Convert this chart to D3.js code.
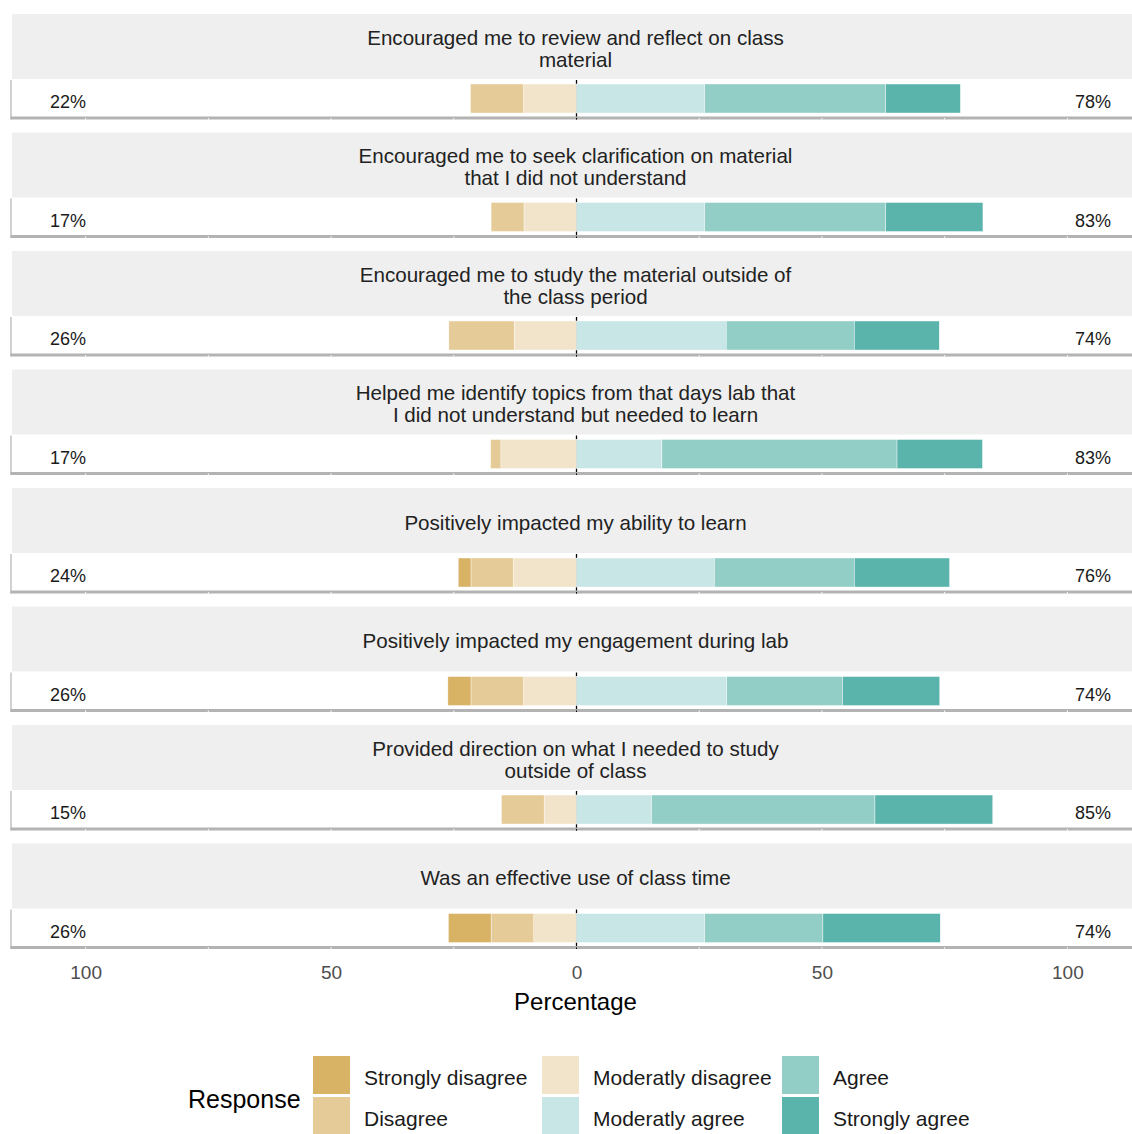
<!DOCTYPE html>
<html>
<head>
<meta charset="utf-8">
<script src="https://cdn.jsdelivr.net/npm/d3@7"></script>
<style>
  body { margin: 0; background: #fff; }
  text { font-family: "Liberation Sans", Arial, sans-serif; }
</style>
</head>
<body>
<svg id="likert" width="1132" height="1134"></svg>
<script>
// DATA
const items = [
    ["Encouraged me to review and reflect on class", "material"],
    ["Encouraged me to seek clarification on material", "that I did not understand"],
    ["Encouraged me to study the material outside of", "the class period"],
    ["Helped me identify topics from that days lab that", "I did not understand but needed to learn"],
    ["Positively impacted my ability to learn"],
    ["Positively impacted my engagement during lab"],
    ["Provided direction on what I needed to study", "outside of class"],
    ["Was an effective use of class time"]
];
const levels = ["Strongly disagree", "Disagree", "Moderatly disagree", "Moderatly agree", "Agree", "Strongly agree"];
const stronglyDisagree = [0, 0, 0, 0, 2.6, 4.7, 0, 8.7];
const disagree = [10.8, 6.7, 13.3, 2.1, 8.6, 10.7, 8.7, 8.7];
const moderatlyDisagree = [10.8, 10.7, 12.7, 15.4, 12.9, 10.8, 6.6, 8.7];
const moderatlyAgree = [26.1, 26.1, 30.5, 17.4, 28.1, 30.6, 15.3, 26.1];
const agree = [36.9, 36.9, 26.1, 47.9, 28.5, 23.6, 45.5, 24.1];
const stronglyAgree = [15.2, 19.8, 17.3, 17.4, 19.4, 19.8, 24.0, 23.9];
const lowLabels = ["22%", "17%", "26%", "17%", "24%", "26%", "15%", "26%"];
const highLabels = ["78%", "83%", "74%", "83%", "76%", "74%", "85%", "74%"];
const tickValues = [-100, -50, 0, 50, 100];
const colors = ["#d8b365", "#e5cb97", "#f2e4ca", "#c8e6e5", "#92cdc6", "#5ab4ac"];

const width = 1132;
const svg = d3.select("svg#likert");

// table for the stack: disagree side negative
const table = items.map((d, i) => ({
    id: i,
    "Strongly disagree": -stronglyDisagree[i],
    "Disagree": -disagree[i],
    "Moderatly disagree": -moderatlyDisagree[i],
    "Moderatly agree": moderatlyAgree[i],
    "Agree": agree[i],
    "Strongly agree": stronglyAgree[i]
}));
const stackOrder = ["Moderatly disagree", "Disagree", "Strongly disagree", "Moderatly agree", "Agree", "Strongly agree"];
const series = d3.stack().keys(stackOrder).offset(d3.stackOffsetDiverging)(table);

const color = d3.scaleOrdinal().domain(levels).range(colors);

// SCALES
const xScale = d3.scaleLinear().domain([-115, 115]).range([12, 1141]);
const facet = d3.scaleBand().domain(d3.range(items.length)).range([14, 949]).paddingInner(0.11);
const stripH = 65;
const panelTop = i => facet(i) + stripH;
const panelBottom = i => facet(i) + facet.bandwidth();

// FACETS
const g = svg.selectAll("g.facet")
    .data(items)
    .join("g")
    .attr("class", "facet");

g.append("rect")
    .attr("x", xScale.range()[0])
    .attr("y", (d, i) => facet(i))
    .attr("width", xScale.range()[1] - xScale.range()[0])
    .attr("height", stripH)
    .attr("fill", "#efefef");

g.append("text")
    .attr("text-anchor", "middle")
    .attr("font-size", 20.6)
    .attr("fill", "#222")
    .each(function(d, i) {
        const mid = facet(i) + stripH / 2;
        const y0 = mid + 9 - (d.length - 1) * 11;
        d3.select(this).selectAll("tspan")
            .data(d)
            .join("tspan")
            .attr("x", xScale(0) - 1)
            .attr("y", (t, j) => y0 + j * 22)
            .text(t => t);
    });

// zero line under the bars
g.append("line")
    .attr("x1", xScale(0)).attr("x2", xScale(0))
    .attr("y1", (d, i) => panelTop(i) + 1)
    .attr("y2", (d, i) => panelBottom(i))
    .attr("stroke", "#000")
    .attr("stroke-width", 1.3);

// BARS
svg.append("g")
    .selectAll("g")
    .data(series)
    .join("g")
    .attr("fill", s => color(s.key))
    .selectAll("rect")
    .data(s => s)
    .join("rect")
    .attr("x", d => xScale(d[0]))
    .attr("width", d => xScale(d[1]) - xScale(d[0]))
    .attr("y", d => panelTop(d.data.id) + 5)
    .attr("height", 29)
    .attr("stroke", "#fff")
    .attr("stroke-width", 0.4);

// panel axis lines
g.append("line")
    .attr("x1", xScale.range()[0] - 1).attr("x2", xScale.range()[0] - 1)
    .attr("y1", (d, i) => panelTop(i) + 1)
    .attr("y2", (d, i) => panelBottom(i))
    .attr("stroke", "#b3b3b3")
    .attr("stroke-width", 1.2);

g.append("line")
    .attr("x1", xScale.range()[0] - 1.5).attr("x2", width)
    .attr("y1", (d, i) => panelBottom(i) - 1.5)
    .attr("y2", (d, i) => panelBottom(i) - 1.5)
    .attr("stroke", "#b3b3b3")
    .attr("stroke-width", 3);

g.each(function(d, i) {
    d3.select(this).selectAll("line.notch")
        .data(d3.range(-100, 101, 25))
        .join("line")
        .attr("class", "notch")
        .attr("x1", v => xScale(v)).attr("x2", v => xScale(v))
        .attr("y1", panelBottom(i) - 1.5)
        .attr("y2", panelBottom(i))
        .attr("stroke", v => v === 0 ? "#000" : "#fff")
        .attr("stroke-width", 1);
});

// percent labels
g.append("text")
    .attr("x", xScale(-103.6))
    .attr("y", (d, i) => panelTop(i) + 29)
    .attr("text-anchor", "middle")
    .attr("font-size", 18)
    .attr("fill", "#1a1a1a")
    .text((d, i) => lowLabels[i]);

g.append("text")
    .attr("x", xScale(105.2))
    .attr("y", (d, i) => panelTop(i) + 29)
    .attr("text-anchor", "middle")
    .attr("font-size", 18)
    .attr("fill", "#1a1a1a")
    .text((d, i) => highLabels[i]);

// AXIS
const xAxis = svg.append("g")
    .attr("transform", `translate(0, ${panelBottom(items.length - 1)})`)
    .call(d3.axisBottom(xScale).tickValues(tickValues).tickSize(0).tickPadding(17).tickFormat(v => Math.abs(v)));
xAxis.select(".domain").remove();
xAxis.selectAll("text")
    .attr("font-size", 19)
    .attr("fill", "#4d4d4d")
    .attr("font-family", "Liberation Sans, Arial, sans-serif");

svg.append("text")
    .attr("x", xScale(0) - 1)
    .attr("y", 1010)
    .attr("text-anchor", "middle")
    .attr("font-size", 24)
    .attr("fill", "#000")
    .text("Percentage");

// LEGEND
const legend = svg.append("g");
legend.append("text")
    .attr("x", 188)
    .attr("y", 1108)
    .attr("font-size", 25)
    .attr("fill", "#000")
    .text("Response");

const colX = [313, 542, 782];
const rowY = [1056, 1097];
const key = legend.selectAll("g.key")
    .data(levels)
    .join("g")
    .attr("class", "key")
    .attr("transform", (d, i) => `translate(${colX[Math.floor(i / 2)]}, ${rowY[i % 2]})`);

key.append("rect")
    .attr("width", 37)
    .attr("height", 38)
    .attr("fill", d => color(d));

key.append("text")
    .attr("x", 51)
    .attr("y", 29)
    .attr("font-size", 21)
    .attr("fill", "#1a1a1a")
    .text(d => d);
</script>
</body>
</html>
